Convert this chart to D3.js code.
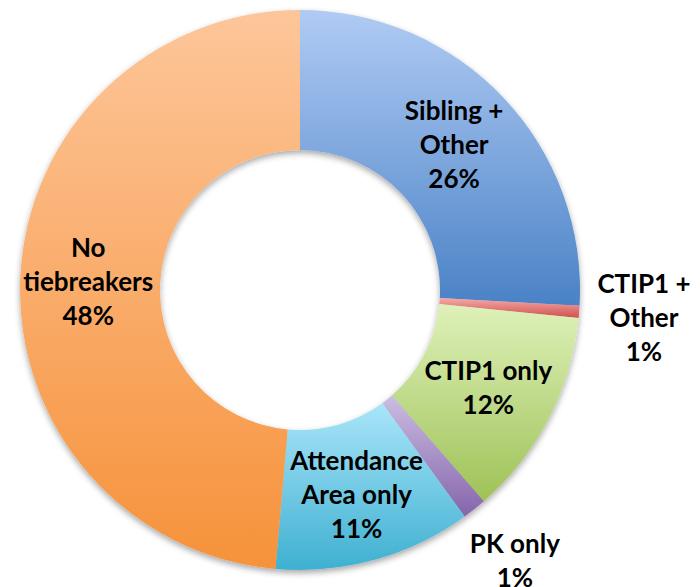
<!DOCTYPE html>
<html>
<head>
<meta charset="utf-8">
<script src="https://cdn.jsdelivr.net/npm/d3@7"></script>
<style>
  body { margin: 0; background: #fff; }
  svg { display: block; }
  .lbl { font-family: Lato, "Open Sans", sans-serif; font-weight: 700; font-size: 26px; fill: #000; }
</style>
</head>
<body>
<svg width="700" height="587"></svg>
<script>
// slices clockwise from 12 o'clock
var labels = [["Sibling +", "Other", "26%"], ["CTIP1 +", "Other", "1%"], ["CTIP1 only", "12%"],
              ["PK only", "1%"], ["Attendance", "Area only", "11%"], ["No", "tiebreakers", "48%"]];
var values = [25.9, 0.7, 12.0, 1.4, 11.4, 48.6];
var outside = [false, true, false, true, false, false];
var topColors = ["#b0cbf4", "#f6aaa8", "#def1b9", "#cbbde2", "#a9e5f9", "#fdc69a"];
var bottomColors = ["#4a82c6", "#cd4f4c", "#9fc257", "#8565ab", "#3fb0d1", "#f6923a"];

var svg = d3.select("svg"),
    cx = 300, cy = 290,
    outerR = 280, innerR = 140;

var data = values.map(function(v, i) { return {value: v, i: i}; });

var pie = d3.pie().sort(null).value(function(d) { return d.value; });
var arc = d3.arc().innerRadius(innerR).outerRadius(outerR);
var labelArc = d3.arc().innerRadius(212).outerRadius(212);
var outArc = d3.arc().innerRadius(345).outerRadius(345);

var defs = svg.append("defs");
data.forEach(function(d) {
  var gr = defs.append("linearGradient")
      .attr("id", "grad" + d.i)
      .attr("x1", 0).attr("y1", 0).attr("x2", 0).attr("y2", 1);
  gr.append("stop").attr("offset", "0%").attr("stop-color", topColors[d.i]);
  gr.append("stop").attr("offset", "100%").attr("stop-color", bottomColors[d.i]);
});

var f = defs.append("filter").attr("id", "shadow")
    .attr("x", "-10%").attr("y", "-10%").attr("width", "120%").attr("height", "120%");
f.append("feDropShadow").attr("dx", 0).attr("dy", 3).attr("stdDeviation", 3)
    .attr("flood-color", "#000").attr("flood-opacity", 0.35);

var g = svg.append("g")
    .attr("transform", "translate(" + cx + "," + cy + ")");

var arcs = pie(data);

g.append("g").attr("filter", "url(#shadow)")
  .selectAll("path")
  .data(arcs)
  .enter().append("path")
    .attr("d", arc)
    .attr("fill", function(d) { return "url(#grad" + d.data.i + ")"; });

g.selectAll(".lbl")
  .data(arcs)
  .enter().append("text")
    .attr("class", "lbl")
    .attr("text-anchor", "middle")
    .attr("transform", function(d) {
      var c = outside[d.data.i] ? outArc.centroid(d) : labelArc.centroid(d);
      return "translate(" + c[0] + "," + c[1] + ")";
    })
    .each(function(d) {
      var lines = labels[d.data.i];
      var t = d3.select(this);
      var lh = 34, y0 = -(lines.length - 1) * lh / 2 + 10;
      lines.forEach(function(s, k) {
        t.append("tspan").attr("x", 0).attr("y", y0 + k * lh).text(s);
      });
    });
</script>
</body>
</html>
